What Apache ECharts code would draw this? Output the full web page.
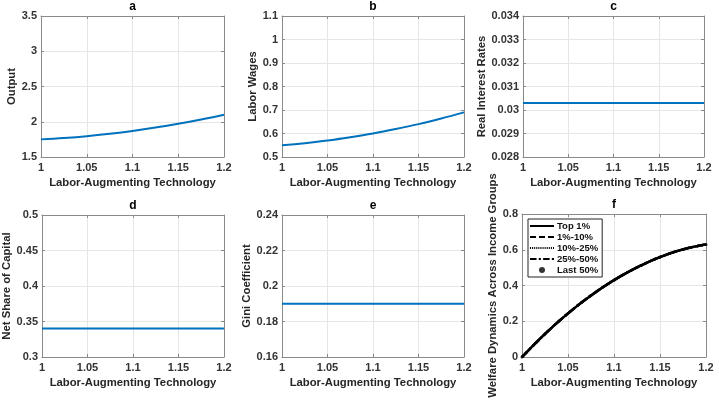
<!DOCTYPE html>
<html>
<head>
<meta charset="utf-8">
<script src="https://cdn.jsdelivr.net/npm/echarts@6/dist/echarts.min.js"></script>
<style>
  html, body { margin: 0; padding: 0; background: #fff; }
  #main { width: 719px; height: 403px; }
</style>
</head>
<body>
<div id="main"></div>
<script>
'use strict'

// labor-augmenting technology grid (x values)
const tech = [1, 1.025, 1.05, 1.075, 1.1, 1.125, 1.15, 1.175, 1.2];

// panel values
const output = [1.75, 1.770, 1.796, 1.830, 1.870, 1.917, 1.971, 2.032, 2.10];
const laborWages = [0.55, 0.559, 0.570, 0.584, 0.600, 0.619, 0.640, 0.664, 0.69];
const interestRate = [0.0303, 0.0303, 0.0303, 0.0303, 0.0303, 0.0303, 0.0303, 0.0303, 0.0303];
const netShareCapital = [0.34, 0.34, 0.34, 0.34, 0.34, 0.34, 0.34, 0.34, 0.34];
const gini = [0.19, 0.19, 0.19, 0.19, 0.19, 0.19, 0.19, 0.19, 0.19];

// welfare of each income group (all groups lie on top of each other)
const welfareTop1 = [0, 0.129, 0.244, 0.344, 0.43, 0.501, 0.559, 0.602, 0.63];
const welfare1to10 = [0, 0.129, 0.244, 0.344, 0.43, 0.501, 0.559, 0.602, 0.63];
const welfare10to25 = [0, 0.129, 0.244, 0.344, 0.43, 0.501, 0.559, 0.602, 0.63];
const welfare25to50 = [0, 0.129, 0.244, 0.344, 0.43, 0.501, 0.559, 0.602, 0.63];
const welfareLast50 = [0, 0.129, 0.244, 0.344, 0.43, 0.501, 0.559, 0.602, 0.63];

const groupNames = ['Top 1%', '1%-10%', '10%-25%', '25%-50%', 'Last 50%'];
const panelTitles = ['a', 'b', 'c', 'd', 'e', 'f'];
const yNames = ['Output', 'Labor Wages', 'Real Interest Rates', 'Net Share of Capital',
    'Gini Coefficient', 'Welfare Dynamics Across Income Groups'];
const yRanges = [[1.5, 3.5, 0.5], [0.5, 1.1, 0.1], [0.028, 0.034, 0.001],
    [0.3, 0.5, 0.05], [0.16, 0.24, 0.02], [0, 0.8, 0.2]];
const xName = 'Labor-Augmenting Technology';

// layout of the six panels: left, top, width, height, y name gap
const layout = [
    [41, 16, 183, 141, 21],
    [282, 16, 182, 141, 20],
    [523, 16, 181, 141, 34],
    [42, 215, 182, 142, 27],
    [282, 215, 182, 142, 27],
    [522, 214, 184, 143, 22]
];

const font = 'Liberation Sans, Arial, Helvetica, sans-serif';
const boxColor = '#8a8a8a';
const blue = '#0072BD';
const nameSize = 11.3;

// legend icons drawn as little bar patterns so the line styles show
function bars(pattern) {
    // pattern: list of [start, length]
    return 'path://' + pattern.map(p => 'M' + p[0] + ',0h' + p[1] + 'v2h-' + p[1] + 'z').join('');
}
let dots = [];
for (let k = 0; k <= 22; k += 2) dots.push([k, 1]);
const legendIcons = [
    bars([[0, 24]]),
    bars([[0, 6], [9, 6], [18, 6]]),
    bars(dots),
    bars([[0, 6], [8, 2], [12, 6], [20, 2]]),
    'circle'
];

var myChart = echarts.init(document.getElementById('main'), null, { renderer: 'canvas' });

var option = {
    animation: false,
    backgroundColor: '#fff',
    textStyle: { fontFamily: font },
    grid: [],
    xAxis: [],
    yAxis: [],
    series: [],
    legend: {
        orient: 'vertical',
        left: 528,
        top: 219,
        backgroundColor: '#fff',
        borderColor: '#222',
        borderWidth: 1,
        borderRadius: 0,
        padding: [2, 4, 2, 2],
        itemGap: 1,
        itemWidth: 24,
        itemHeight: 6,
        align: 'left',
        textStyle: { fontFamily: font, fontWeight: 'bold', fontSize: 9.5, color: '#111', padding: [0, 0, 0, -2] },
        data: groupNames.map((n, k) => ({ name: n, icon: legendIcons[k] }))
    }
};

for (let i = 0; i < 6; i++) {
    let l = layout[i];
    let r = yRanges[i];
    option.grid.push({ left: l[0], top: l[1], width: l[2], height: l[3], containLabel: false });

    // bottom axis
    option.xAxis.push({
        type: 'value', gridIndex: i, min: 1, max: 1.2, interval: 0.05,
        name: xName, nameLocation: 'middle', nameGap: 20,
        nameTextStyle: { fontFamily: font, fontWeight: 'bold', fontSize: nameSize, color: '#262626' },
        axisLine: { show: true, onZero: false, lineStyle: { color: boxColor, width: 1 } },
        axisTick: { show: true, inside: true, length: 3, lineStyle: { color: boxColor } },
        axisLabel: { fontFamily: font, fontWeight: 'bold', fontSize: 11, color: '#333', margin: 5 },
        splitLine: { show: true, lineStyle: { color: '#e6e6e6', width: 1 } }
    });
    // top axis carries the panel letter
    option.xAxis.push({
        type: 'value', gridIndex: i, position: 'top', min: 1, max: 1.2, interval: 0.05,
        name: panelTitles[i], nameLocation: 'middle', nameGap: 3,
        nameTextStyle: { fontFamily: font, fontWeight: 'bold', fontSize: 12, color: '#000', verticalAlign: 'bottom' },
        axisLine: { show: true, onZero: false, lineStyle: { color: boxColor, width: 1 } },
        axisTick: { show: true, inside: true, length: 3, lineStyle: { color: boxColor } },
        axisLabel: { show: false },
        splitLine: { show: false }
    });
    // left axis
    option.yAxis.push({
        type: 'value', gridIndex: i, min: r[0], max: r[1], interval: r[2],
        name: yNames[i], nameLocation: 'middle', nameGap: l[4],
        nameTextStyle: { fontFamily: font, fontWeight: 'bold', fontSize: nameSize, color: '#262626' },
        axisLine: { show: true, onZero: false, lineStyle: { color: boxColor, width: 1 } },
        axisTick: { show: true, inside: true, length: 3, lineStyle: { color: boxColor } },
        axisLabel: { fontFamily: font, fontWeight: 'bold', fontSize: 11, color: '#333', margin: 4 },
        splitLine: { show: true, lineStyle: { color: '#e6e6e6', width: 1 } }
    });
    // right axis, just closes the box
    option.yAxis.push({
        type: 'value', gridIndex: i, position: 'right', min: r[0], max: r[1], interval: r[2],
        axisLine: { show: true, onZero: false, lineStyle: { color: boxColor, width: 1 } },
        axisTick: { show: true, inside: true, length: 3, lineStyle: { color: boxColor } },
        axisLabel: { show: false },
        splitLine: { show: false }
    });
}

function pairs(ys) {
    return tech.map((x, k) => [x, ys[k]]);
}

const blueSeries = [output, laborWages, interestRate, netShareCapital, gini];
for (let i = 0; i < blueSeries.length; i++) {
    option.series.push({
        type: 'line', xAxisIndex: i * 2, yAxisIndex: i * 2,
        data: pairs(blueSeries[i]), smooth: 0.4, showSymbol: false, symbol: 'none',
        lineStyle: { color: blue, width: 2 }
    });
}

// panel f, black lines in several styles
const welfareGroups = [welfareTop1, welfare1to10, welfare10to25, welfare25to50];
const lineTypes = ['solid', 'dashed', 'dotted', [8, 3, 2, 3]];
for (let g = 0; g < welfareGroups.length; g++) {
    option.series.push({
        name: groupNames[g], type: 'line', xAxisIndex: 10, yAxisIndex: 10,
        data: pairs(welfareGroups[g]), smooth: 0.4, symbol: 'none',
        itemStyle: { color: '#000' },
        lineStyle: { color: '#000', width: 2.5, type: lineTypes[g] }
    });
}
option.series.push({
    name: groupNames[4], type: 'scatter', xAxisIndex: 10, yAxisIndex: 10,
    data: pairs(welfareLast50), symbol: 'circle', symbolSize: 3,
    itemStyle: { color: '#000' }
});

myChart.setOption(option);
</script>
</body>
</html>
